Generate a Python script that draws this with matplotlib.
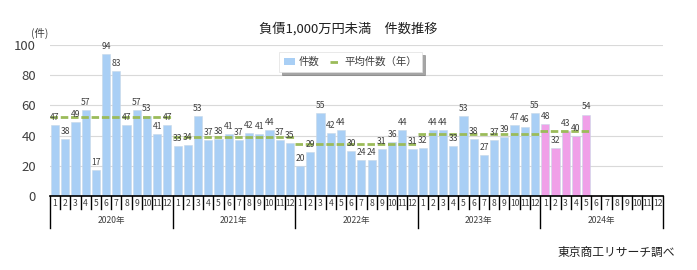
import numpy as np
import matplotlib.pyplot as plt
import matplotlib.transforms as mtransforms
from matplotlib.lines import Line2D
from matplotlib.patches import Patch

plt.rcParams['font.family'] = ['Noto Sans CJK JP', 'DejaVu Sans']

# monthly counts, Jan 2020 - May 2024
years = ['2020年', '2021年', '2022年', '2023年', '2024年']
counts = [
    47, 38, 49, 57, 17, 94, 83, 47, 57, 53, 41, 47,
    33, 34, 53, 37, 38, 41, 37, 42, 41, 44, 37, 35,
    20, 29, 55, 42, 44, 30, 24, 24, 31, 36, 44, 31,
    32, 44, 44, 33, 53, 38, 27, 37, 39, 47, 46, 55,
    48, 32, 43, 40, 54,
]
year_avg = [52.5, 39.3, 34.2, 41.3, 43.4]
months = [str(m) for m in range(1, 13)]

blue = '#A9CFF5'
pink = '#F0A0E8'
green = '#9BBB59'
txt = '#404040'
dash = (2.7, 1.0)

fig = plt.figure(figsize=(6.97, 2.70), dpi=100)
ax = fig.add_axes([0.0717, 0.274, 0.879, 0.559])

n_slots = 12 * len(years)
x = np.arange(len(counts))
colors = [pink if i >= 48 else blue for i in x]
ax.bar(x, counts, width=0.8, color=colors, edgecolor='#C8D8E8', linewidth=0.4, zorder=2)

for i, v in zip(x, counts):
    ax.text(i, v + 2, str(v), ha='center', va='bottom', fontsize=6.2, color=txt, zorder=4)

# yearly average dashed segments
for k, avg in enumerate(year_avg):
    end = min(12 * k + 12, len(counts))
    ax.plot([12 * k - 0.5, end - 0.5], [avg, avg], color=green, lw=2.0,
            dashes=dash, zorder=3)

ax.set_xlim(-0.5, n_slots - 0.5)
ax.set_ylim(0, 100)
ax.set_yticks(range(0, 101, 20))
ax.tick_params(axis='y', length=0, labelsize=9.5, labelcolor=txt, pad=10)
ax.set_xticks([])
ax.grid(axis='y', color='#D9D9D9', lw=0.8, zorder=0)
for s in ['top', 'right', 'left']:
    ax.spines[s].set_visible(False)
ax.spines['bottom'].set_color('black')
ax.spines['bottom'].set_linewidth(1.2)

# month / year category axis
trans = mtransforms.blended_transform_factory(ax.transData, ax.transAxes)
for i in range(n_slots + 1):
    is_year = i % 12 == 0
    ax.plot([i - 0.5, i - 0.5], [0, -0.215 if is_year else -0.085], color='black',
            lw=1.0, transform=trans, clip_on=False)
for i in range(n_slots):
    ax.text(i, -0.05, months[i % 12], transform=trans, ha='center', va='center',
            fontsize=6.2, color=txt)
for k, yr in enumerate(years):
    ax.text(12 * k + 5.5, -0.165, yr, transform=trans, ha='center', va='center',
            fontsize=6.2, color=txt)

fig.text(0.057, 0.878, '(件)', ha='center', va='center', fontsize=7.5, color=txt)
fig.text(0.5, 0.895, '負債1,000万円未満　件数推移', ha='center', va='center', fontsize=9.5, color='#202020')
fig.text(0.968, 0.066, '東京商工リサーチ調べ', ha='right', va='center', fontsize=8.5, color='#202020')

handles = [Patch(facecolor=blue, edgecolor='none'),
           Line2D([0], [0], color=green, lw=2.0, dashes=dash)]
leg = fig.legend(handles, ['件数', '平均件数（年）'], loc='center', bbox_to_anchor=(0.503, 0.77),
                 ncol=2, fontsize=7.5, frameon=True, shadow=True, fancybox=False,
                 handlelength=1.0, handletextpad=0.4, columnspacing=1.0, borderpad=0.5)
leg.get_frame().set_edgecolor('#E0E0E0')
leg.get_frame().set_linewidth(0.5)
for t in leg.get_texts():
    t.set_color(txt)

fig.savefig('out.png', dpi=100)
